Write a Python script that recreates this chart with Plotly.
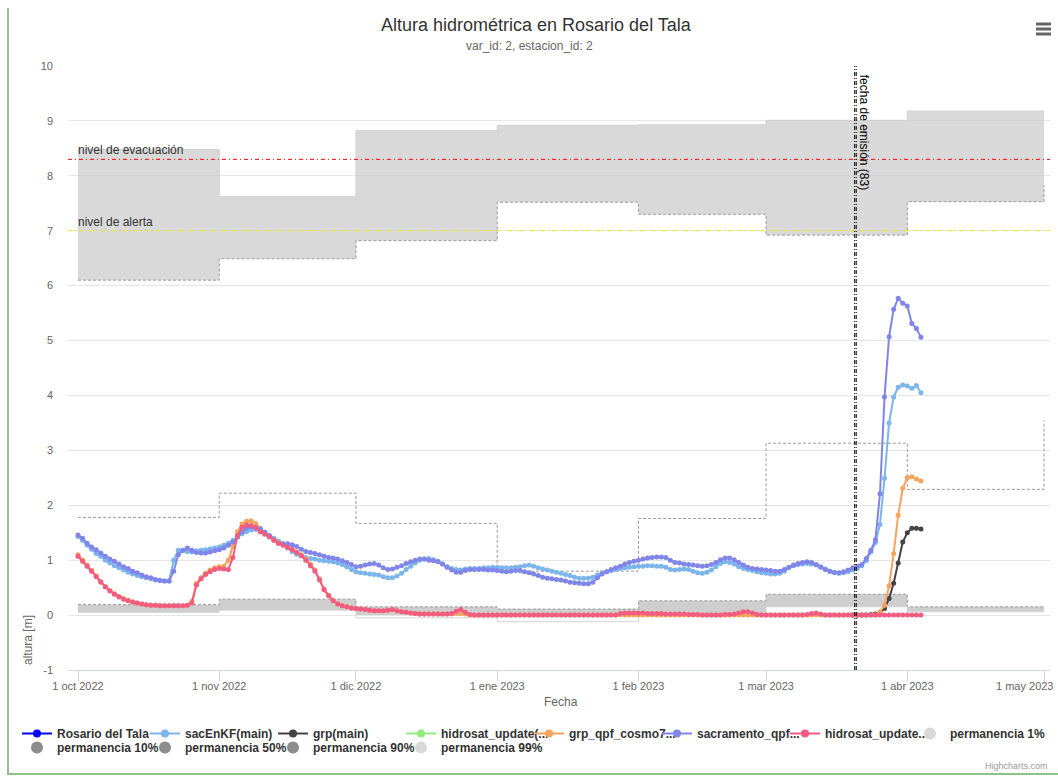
import pandas as pd
import plotly.graph_objects as go

# ---------------- data ----------------
series_start = "2022-10-01"

sacEnKF_main = [
    # oct
    1.43, 1.36, 1.27, 1.20, 1.12, 1.07, 1.00, 0.95, 0.90, 0.86, 0.82, 0.78, 0.75, 0.72, 0.70, 0.68,
    0.66, 0.64, 0.63, 0.62, 0.62, 1.00, 1.18, 1.17, 1.16, 1.15, 1.17, 1.18, 1.19, 1.21, 1.22,
    # nov
    1.24, 1.27, 1.31, 1.36, 1.42, 1.48, 1.52, 1.55, 1.56, 1.55, 1.50, 1.45, 1.40, 1.35, 1.30,
    1.22, 1.16, 1.11, 1.08, 1.05, 1.03, 1.02, 1.00, 0.99, 0.98, 0.97, 0.95, 0.92, 0.88, 0.83,
    # dec
    0.79, 0.77, 0.76, 0.75, 0.74, 0.73, 0.70, 0.68, 0.68, 0.71, 0.76, 0.83, 0.89, 0.95, 1.00, 1.02,
    1.03, 1.01, 0.98, 0.93, 0.88, 0.85, 0.83, 0.82, 0.84, 0.85, 0.85, 0.85, 0.86, 0.86, 0.87,
    # jan
    0.87, 0.86, 0.86, 0.86, 0.87, 0.88, 0.90, 0.91, 0.89, 0.86, 0.84, 0.82, 0.80, 0.78, 0.76, 0.74,
    0.72, 0.69, 0.67, 0.67, 0.67, 0.69, 0.73, 0.77, 0.79, 0.81, 0.83, 0.85, 0.86, 0.87, 0.88,
    # feb
    0.89, 0.89, 0.90, 0.90, 0.89, 0.89, 0.87, 0.83, 0.82, 0.83, 0.84, 0.83, 0.80, 0.77, 0.76, 0.78,
    0.82, 0.88, 0.94, 0.97, 0.96, 0.93, 0.88, 0.85, 0.83, 0.81, 0.79, 0.77,
    # mar
    0.76, 0.75, 0.75, 0.76, 0.80, 0.86, 0.90, 0.92, 0.93, 0.94, 0.93, 0.91, 0.88, 0.84, 0.80, 0.77,
    0.76, 0.77, 0.79, 0.82, 0.85, 0.90, 0.99, 1.15, 1.32, 1.65, 2.49, 3.50, 3.97, 4.15, 4.19,
    # apr
    4.17, 4.13, 4.18, 4.05,
]

grp_qpf_cosmo7 = [
    # oct
    1.10, 1.00, 0.91, 0.81, 0.71, 0.61, 0.52, 0.45, 0.39, 0.34, 0.30, 0.27, 0.24, 0.22, 0.20, 0.19,
    0.18, 0.18, 0.17, 0.17, 0.17, 0.17, 0.17, 0.17, 0.18, 0.25, 0.58, 0.68, 0.76, 0.82, 0.86,
    # nov
    0.88, 0.89, 1.00, 1.25, 1.52, 1.66, 1.71, 1.72, 1.67, 1.58, 1.50, 1.44, 1.38, 1.32, 1.28,
    1.24, 1.20, 1.15, 1.10, 1.02, 0.93, 0.82, 0.66, 0.48, 0.36, 0.27, 0.21, 0.17, 0.15, 0.13,
    # dec
    0.12, 0.11, 0.10, 0.09, 0.08, 0.08, 0.08, 0.09, 0.10, 0.08, 0.06, 0.05, 0.04, 0.03, 0.02, 0.02,
    0.02, 0.02, 0.02, 0.02, 0.02, 0.02, 0.03, 0.03, 0.02, 0.00, 0.00, 0.00, 0.00, 0.00, 0.00,
    # jan
    0.00, 0.00, 0.00, 0.00, 0.00, 0.00, 0.00, 0.00, 0.00, 0.00, 0.00, 0.00, 0.00, 0.00, 0.00, 0.00,
    0.00, 0.00, 0.00, 0.00, 0.00, 0.00, 0.00, 0.00, 0.00, 0.00, 0.00, 0.00, 0.00, 0.00, 0.00,
    # feb
    0.00, 0.00, 0.00, 0.00, 0.00, 0.00, 0.00, 0.00, 0.00, 0.00, 0.00, 0.00, 0.00, 0.00, 0.00, 0.00,
    0.00, 0.00, 0.00, 0.00, 0.00, 0.00, 0.00, 0.00, 0.00, 0.00, 0.00, 0.00,
    # mar
    0.00, 0.00, 0.00, 0.00, 0.00, 0.00, 0.00, 0.00, 0.00, 0.00, 0.00, 0.00, 0.00, 0.00, 0.00, 0.00,
    0.00, 0.00, 0.00, 0.00, 0.00, 0.00, 0.00, 0.00, 0.00, 0.06, 0.18, 0.53, 1.12, 1.82, 2.31,
    # apr
    2.50, 2.52, 2.48, 2.44,
]

sacramento_qpf = [
    # oct
    1.46, 1.40, 1.31, 1.24, 1.19, 1.13, 1.07, 1.02, 0.98, 0.93, 0.88, 0.85, 0.80, 0.77, 0.73, 0.70,
    0.68, 0.65, 0.63, 0.62, 0.62, 0.80, 1.10, 1.18, 1.22, 1.18, 1.14, 1.13, 1.13, 1.15, 1.17,
    # nov
    1.19, 1.22, 1.27, 1.33, 1.42, 1.52, 1.58, 1.61, 1.60, 1.57, 1.51, 1.44, 1.37, 1.31, 1.30,
    1.30, 1.28, 1.25, 1.20, 1.16, 1.14, 1.12, 1.10, 1.07, 1.05, 1.04, 1.02, 0.99, 0.96, 0.92,
    # dec
    0.88, 0.89, 0.91, 0.93, 0.94, 0.91, 0.86, 0.83, 0.84, 0.87, 0.90, 0.94, 0.97, 1.00, 1.02, 1.02,
    1.00, 0.99, 0.97, 0.93, 0.87, 0.82, 0.78, 0.78, 0.81, 0.83, 0.83, 0.83, 0.83, 0.82, 0.82,
    # jan
    0.81, 0.80, 0.79, 0.80, 0.81, 0.81, 0.79, 0.77, 0.75, 0.72, 0.69, 0.67, 0.66, 0.65, 0.64, 0.62,
    0.60, 0.59, 0.58, 0.57, 0.57, 0.60, 0.68, 0.75, 0.79, 0.83, 0.86, 0.89, 0.93, 0.96, 0.98,
    # feb
    1.00, 1.02, 1.04, 1.05, 1.06, 1.06, 1.05, 1.00, 0.96, 0.95, 0.93, 0.92, 0.91, 0.90, 0.89, 0.90,
    0.92, 0.96, 1.01, 1.04, 1.04, 1.01, 0.96, 0.91, 0.87, 0.85, 0.84, 0.83,
    # mar
    0.82, 0.81, 0.80, 0.80, 0.83, 0.87, 0.91, 0.94, 0.96, 0.97, 0.96, 0.92, 0.87, 0.83, 0.80, 0.78,
    0.77, 0.79, 0.82, 0.86, 0.89, 0.92, 1.03, 1.18, 1.37, 2.21, 3.97, 5.07, 5.57, 5.77, 5.68,
    # apr
    5.63, 5.31, 5.22, 5.06,
]

hidrosat_update = [
    # oct
    1.07, 0.98, 0.89, 0.80, 0.70, 0.60, 0.51, 0.44, 0.38, 0.33, 0.29, 0.26, 0.24, 0.22, 0.20, 0.19,
    0.18, 0.18, 0.17, 0.17, 0.17, 0.17, 0.17, 0.17, 0.18, 0.22, 0.55, 0.66, 0.74, 0.79, 0.83,
    # nov
    0.85, 0.84, 0.83, 1.05, 1.45, 1.60, 1.64, 1.63, 1.59, 1.52, 1.47, 1.42, 1.36, 1.31, 1.27,
    1.23, 1.19, 1.14, 1.08, 1.00, 0.90, 0.80, 0.64, 0.46, 0.35, 0.26, 0.20, 0.17, 0.15, 0.13,
    # dec
    0.12, 0.11, 0.10, 0.09, 0.08, 0.08, 0.08, 0.09, 0.10, 0.08, 0.06, 0.05, 0.04, 0.03, 0.02, 0.02,
    0.02, 0.02, 0.02, 0.02, 0.02, 0.03, 0.07, 0.10, 0.05, 0.01, 0.00, 0.00, 0.00, 0.00, 0.00,
    # jan
    0.00, 0.00, 0.00, 0.00, 0.00, 0.00, 0.00, 0.00, 0.00, 0.00, 0.00, 0.00, 0.00, 0.00, 0.00, 0.00,
    0.00, 0.00, 0.00, 0.00, 0.00, 0.00, 0.00, 0.00, 0.00, 0.00, 0.00, 0.03, 0.04, 0.04, 0.04,
    # feb
    0.04, 0.04, 0.03, 0.03, 0.03, 0.03, 0.02, 0.02, 0.02, 0.02, 0.02, 0.01, 0.01, 0.01, 0.00, 0.00,
    0.00, 0.00, 0.00, 0.01, 0.01, 0.02, 0.04, 0.06, 0.06, 0.04, 0.01, 0.00,
    # mar
    0.00, 0.00, 0.00, 0.00, 0.00, 0.00, 0.00, 0.00, 0.00, 0.01, 0.03, 0.04, 0.02, 0.00, 0.00, 0.00,
    0.00, 0.00, 0.00, 0.00, 0.00, 0.00, 0.00, 0.00, 0.00, 0.00, 0.00, 0.00, 0.00, 0.00, 0.00,
    # apr
    0.00, 0.00, 0.00, 0.00,
]

grp_main_start = "2023-03-20"
grp_main = [0.00, 0.00, 0.00, 0.00, 0.01, 0.02, 0.04, 0.12, 0.30, 0.58, 0.95, 1.33,
            1.50, 1.58, 1.58, 1.57]

# monthly permanence levels (step series)
perm_dates = ["2022-10-01", "2022-11-01", "2022-12-01", "2023-01-01",
              "2023-02-01", "2023-03-01", "2023-04-01", "2023-05-01"]
perm_1 = [8.48, 7.62, 8.82, 8.92, 8.93, 9.01, 9.18, 9.18]
perm_10 = [6.10, 6.49, 6.82, 7.52, 7.30, 6.92, 7.53, 7.83]
perm_50 = [1.78, 2.22, 1.67, 0.80, 1.76, 3.13, 2.29, 3.55]
perm_90 = [0.19, 0.29, 0.15, 0.11, 0.26, 0.38, 0.15, 0.15]
perm_99 = [0.05, 0.09, -0.05, -0.12, -0.01, 0.15, 0.06, 0.06]

nivel_evacuacion = 8.3
nivel_alerta = 7.0
fechas_emision = ["2023-03-20 11:00", "2023-03-20 19:00"]
etiqueta_emision = "fecha de emisión (83)"

x_tickvals = perm_dates
x_ticktext = ["1 oct 2022", "1 nov 2022", "1 dic 2022", "1 ene 2023",
              "1 feb 2023", "1 mar 2023", "1 abr 2023", "1 may 2023"]
y_tickvals = [-1, 0, 1, 2, 3, 4, 5, 6, 7, 8, 9, 10]
y_ticktext = ["-1", "0", "1", "2", "3", "4", "5", "6", "7", "8", "9", "10"]

# ---------------- layout helpers ----------------
W, H = 1058, 776
L, R, T, B = 68, 8, 66, 106
PW, PH = W - L - R, H - T - B
FONT = "Liberation Sans, Arial, Helvetica, sans-serif"


def px(xp):
    return (xp - L) / PW


def py(yp):
    return (H - B - yp) / PH


days = pd.date_range(series_start, periods=len(sacramento_qpf), freq="D")
grp_days = pd.date_range(grp_main_start, periods=len(grp_main), freq="D")

fig = go.Figure()

# ---- permanence bands ----
fig.add_trace(go.Scatter(x=perm_dates, y=perm_10, mode="lines", line_shape="hv",
                         line=dict(color="#9a9a9a", width=1, dash="3px,2px"),
                         showlegend=False, hoverinfo="skip"))
fig.add_trace(go.Scatter(x=perm_dates, y=perm_1, mode="lines", line_shape="hv",
                         line=dict(color="#d0d0d0", width=1),
                         fill="tonexty", fillcolor="rgba(204,204,204,0.75)",
                         showlegend=False, hoverinfo="skip"))
fig.add_trace(go.Scatter(x=perm_dates, y=perm_50, mode="lines", line_shape="hv",
                         line=dict(color="#9a9a9a", width=1, dash="3px,2px"),
                         showlegend=False, hoverinfo="skip"))
fig.add_trace(go.Scatter(x=perm_dates, y=[max(v, 0) for v in perm_99], mode="lines",
                         line_shape="hv", line=dict(width=0, color="rgba(0,0,0,0)"),
                         showlegend=False, hoverinfo="skip"))
fig.add_trace(go.Scatter(x=perm_dates, y=perm_90, mode="lines", line_shape="hv",
                         line=dict(color="#9a9a9a", width=1, dash="3px,2px"),
                         fill="tonexty", fillcolor="rgba(190,190,190,0.75)",
                         showlegend=False, hoverinfo="skip"))
fig.add_trace(go.Scatter(x=perm_dates, y=perm_99, mode="lines", line_shape="hv",
                         line=dict(color="#d4d4d4", width=1),
                         showlegend=False, hoverinfo="skip"))

# ---- simulated / forecast series ----
data_series = [
    (days, sacEnKF_main, "#7cb5ec"),
    (grp_days, grp_main, "#434348"),
    (days, grp_qpf_cosmo7, "#f7a35c"),
    (days, sacramento_qpf, "#8085e9"),
    (days, hidrosat_update, "#f15c80"),
]
for xs, ys, col in data_series:
    fig.add_trace(go.Scatter(x=xs, y=ys, mode="lines+markers",
                             line=dict(color=col, width=2),
                             marker=dict(color=col, size=5),
                             showlegend=False, hoverinfo="skip"))

# ---- legend entries ----
legend_lines = [
    ("Rosario del Tala", "#0000ff"),
    ("sacEnKF(main)", "#7cb5ec"),
    ("grp(main)", "#434348"),
    ("hidrosat_update(...", "#90ed7d"),
    ("grp_qpf_cosmo7...", "#f7a35c"),
    ("sacramento_qpf...", "#8085e9"),
    ("hidrosat_update...", "#f15c80"),
]
for name, col in legend_lines:
    fig.add_trace(go.Scatter(x=[None], y=[None], mode="lines+markers", name=name,
                             line=dict(color=col, width=2),
                             marker=dict(color=col, size=8), legend="legend"))

legend_perm = [
    ("permanencia 1%", "#d9d9d9", "legend2"),
    ("permanencia 10%", "#8c8c8c", "legend3"),
    ("permanencia 50%", "#8c8c8c", "legend3"),
    ("permanencia 90%", "#8c8c8c", "legend3"),
    ("permanencia 99%", "#d9d9d9", "legend3"),
]
for name, col, lg in legend_perm:
    fig.add_trace(go.Scatter(x=[None], y=[None], mode="markers", name=name,
                             marker=dict(color=col, size=12), legend=lg))

# invisible spacer entries so the last visible entry of each row is not clipped
for lg in ("legend", "legend3"):
    fig.add_trace(go.Scatter(x=[None], y=[None], mode="markers", name=" ",
                             marker=dict(color="rgba(0,0,0,0)", size=1), legend=lg))

# ---- reference lines ----
shapes = [
    dict(type="line", xref="paper", x0=0, x1=1, yref="y", y0=nivel_evacuacion,
         y1=nivel_evacuacion, line=dict(color="#ff0000", width=1, dash="4px,3px,1px,3px")),
    dict(type="line", xref="paper", x0=0, x1=1, yref="y", y0=nivel_alerta,
         y1=nivel_alerta, line=dict(color="#f0f000", width=1, dash="4px,3px,1px,3px")),
]
for fe in fechas_emision:
    shapes.append(dict(type="line", xref="x", x0=fe, x1=fe, yref="paper", y0=0, y1=1,
                       line=dict(color="#000000", width=1, dash="4px,2px,1px,2px")))

# hamburger menu icon
for yb in (24, 29, 34):
    shapes.append(dict(type="line", xref="paper", yref="paper", x0=px(1036), x1=px(1051),
                       y0=py(yb), y1=py(yb), line=dict(color="#666666", width=3)))
# container border
shapes.append(dict(type="line", xref="paper", yref="paper", x0=px(8), x1=px(8),
                   y0=py(8), y1=py(775), line=dict(color="#90c08c", width=2)))
shapes.append(dict(type="line", xref="paper", yref="paper", x0=px(8), x1=px(1058),
                   y0=py(774), y1=py(774), line=dict(color="#90c08c", width=2)))

annotations = [
    dict(text="Altura hidrométrica en Rosario del Tala", xref="paper", yref="paper",
         x=px(536), y=py(25), xanchor="center", yanchor="middle", showarrow=False,
         font=dict(size=18, color="#333333", family=FONT)),
    dict(text="var_id: 2, estacion_id: 2", xref="paper", yref="paper",
         x=px(529), y=py(46), xanchor="center", yanchor="middle", showarrow=False,
         font=dict(size=12, color="#666666", family=FONT)),
    dict(text="altura [m]", xref="paper", yref="paper", x=px(28), y=py(640),
         textangle=-90, xanchor="center", yanchor="middle", showarrow=False,
         font=dict(size=12, color="#666666", family=FONT)),
    dict(text="Fecha", xref="paper", yref="paper", x=px(561), y=py(702),
         xanchor="center", yanchor="middle", showarrow=False,
         font=dict(size=12, color="#666666", family=FONT)),
    dict(text="Highcharts.com", xref="paper", yref="paper", x=px(1050), y=py(766),
         xanchor="right", yanchor="middle", showarrow=False,
         font=dict(size=9, color="#999999", family=FONT)),
    # last x tick label, kept inside the chart like the original
    dict(text=x_ticktext[-1], xref="paper", yref="paper", x=px(1055), y=py(686),
         xanchor="right", yanchor="middle", showarrow=False,
         font=dict(size=11, color="#666666", family=FONT)),
    dict(text="nivel de evacuación", xref="x", yref="y", x=perm_dates[0], y=nivel_evacuacion,
         xanchor="left", yanchor="bottom", showarrow=False, xshift=-2,
         font=dict(size=12, color="#333333", family=FONT)),
    dict(text="nivel de alerta", xref="x", yref="y", x=perm_dates[0], y=nivel_alerta,
         xanchor="left", yanchor="bottom", showarrow=False, xshift=-2,
         font=dict(size=12, color="#333333", family=FONT)),
    dict(text=etiqueta_emision, xref="x", yref="paper", x=fechas_emision[0], y=1,
         xanchor="left", yanchor="top", textangle=90, showarrow=False, xshift=1, yshift=-7,
         font=dict(size=12, color="#000000", family=FONT)),
]

legend_common = dict(orientation="h", xanchor="left", yanchor="top",
                     bgcolor="rgba(0,0,0,0)", borderwidth=0, itemwidth=30,
                     entrywidthmode="pixels", traceorder="normal",
                     font=dict(size=12, color="#333333", family=FONT, weight="bold"),
                     itemclick=False, itemdoubleclick=False)

fig.update_layout(
    width=W, height=H,
    margin=dict(l=L, r=R, t=T, b=B, autoexpand=False),
    paper_bgcolor="white", plot_bgcolor="white",
    font=dict(family=FONT, color="#666666", size=11),
    showlegend=True,
    legend=dict(**legend_common, x=px(17), y=py(719), entrywidth=83),
    legend2=dict(**legend_common, x=px(910), y=py(719), entrywidth=100),
    legend3=dict(**legend_common, x=px(17), y=py(733), entrywidth=83),
    xaxis=dict(type="date", range=["2022-09-28 19:20", "2023-05-02 07:36"],
               tickvals=x_tickvals, ticktext=x_ticktext[:-1] + [""], ticks="outside",
               ticklen=10, tickcolor="#ccd6eb", showline=True, linecolor="#ccd6eb",
               linewidth=1, showgrid=False, zeroline=False, ticklabelstandoff=-4,
               tickfont=dict(size=11, color="#666666", family=FONT)),
    yaxis=dict(range=[-1, 10], tickvals=y_tickvals, ticktext=y_ticktext,
               showgrid=True, gridcolor="#e6e6e6", gridwidth=1, zeroline=False,
               showline=False, ticks="", ticklabelstandoff=14,
               tickfont=dict(size=11, color="#666666", family=FONT)),
    shapes=shapes,
    annotations=annotations,
    hovermode=False,
)

fig.write_html("out.html")
